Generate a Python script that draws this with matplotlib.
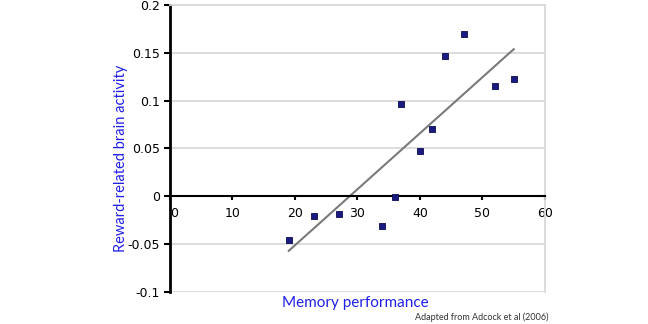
import numpy as np
import matplotlib.pyplot as plt

# memory performance vs reward-related brain activity
memory = [19, 23, 27, 34, 36, 37, 40, 42, 44, 47, 52, 55]
activity = [-0.046, -0.021, -0.018, -0.031, -0.001, 0.096, 0.047, 0.070, 0.147, 0.170, 0.115, 0.123]
x_ticks = [0, 10, 20, 30, 40, 50, 60]
y_ticks = [-0.1, -0.05, 0, 0.05, 0.1, 0.15, 0.2]
y_tick_labels = ['-0.1', '-0.05', '0', '0.05', '0.1', '0.15', '0.2']

fig = plt.figure(figsize=(6.48, 3.24), dpi=100)
ax = fig.add_axes([0.2623, 0.0988, 0.5787, 0.8858])

# linear trendline
slope, intercept = np.polyfit(memory, activity, 1)
xl = np.array([min(memory), max(memory)])
ax.plot(xl, slope * xl + intercept, color='#7a7a7a', lw=1.5, zorder=2)

ax.scatter(memory, activity, marker='s', s=18, color='#1a1a80',
           edgecolors='#0a0a50', linewidths=0.6, zorder=3)

ax.set_xlim(0, 60)
ax.set_ylim(-0.1, 0.2)
ax.set_yticks(y_ticks)
ax.set_yticklabels(y_tick_labels)
ax.set_xticks(x_ticks)
ax.yaxis.grid(True, color='#d9d9d9', lw=1.3)
ax.set_axisbelow(True)

ax.spines['bottom'].set_position(('data', 0))
ax.spines['bottom'].set_linewidth(1.5)
ax.spines['left'].set_linewidth(2)
ax.spines['top'].set_color('#d9d9d9')
ax.spines['right'].set_color('#d9d9d9')
ax.spines['right'].set_linewidth(1.3)
ax.spines['top'].set_linewidth(1.3)

ax.tick_params(axis='y', direction='out', length=4, width=1.5, labelsize=9, pad=3)
ax.tick_params(axis='x', direction='out', length=3, width=1.5, labelsize=9, pad=5)
for lbl in ax.get_xticklabels():
    lbl.set_horizontalalignment('left' if lbl.get_text() == '0' else 'center')

fig.text(0.186, 0.51, 'Reward-related brain activity', rotation=90, color='#2020e8',
         fontsize=10.5, family='Lato', ha='center', va='center')
fig.text(0.548, 0.065, 'Memory performance', color='#2020e8', fontsize=11,
         family='Lato', ha='center', va='center')
fig.text(0.846, 0.022, 'Adapted from Adcock et al (2006)', color='#333333',
         fontsize=6.5, family='Lato', ha='right', va='center')

fig.savefig('out.png', dpi=100)
